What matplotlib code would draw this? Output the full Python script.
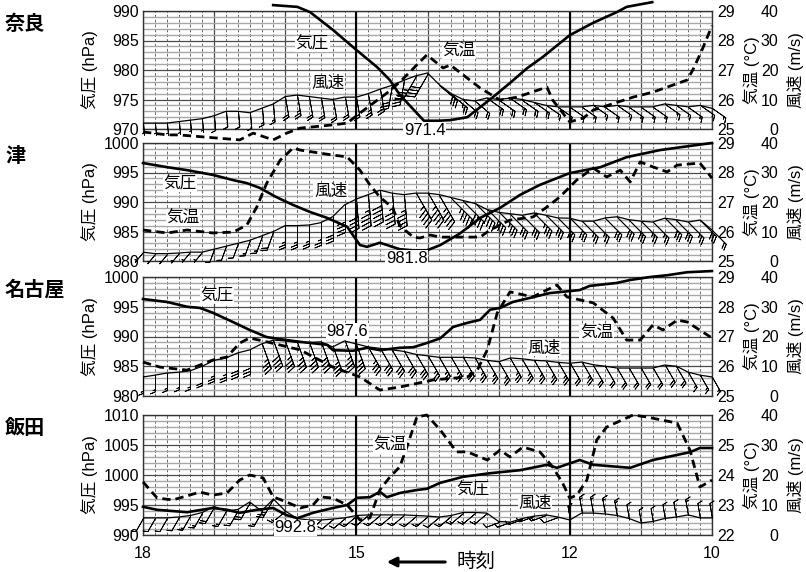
import numpy as np
import matplotlib
matplotlib.use("Agg")
import matplotlib.pyplot as plt
from matplotlib.ticker import MultipleLocator, FixedLocator, FuncFormatter

plt.rcParams['font.family'] = ['Liberation Sans', 'Noto Sans CJK JP']

stations = ["奈良", "津", "名古屋", "飯田"]
p_lows = [970, 980, 980, 990]      # pressure axis bottom (20 hPa span)
t_lows = [25, 25, 25, 22]          # temperature axis bottom (4 C span)

# ---- pressure (hPa) ----
nara_p_time = [16.17, 15.83, 15.65, 15.33, 15.0, 14.71, 14.53, 14.39, 14.05, 13.85, 13.68,
               13.44, 13.26, 13.08, 12.84, 12.6, 12.38, 12.0, 11.67, 11.34, 11.2, 10.84]
nara_p = [991.0, 990.7, 989.8, 986.8, 983.4, 980.5, 978.3, 975.8, 971.4, 971.4, 971.5,
          972.0, 973.7, 975.4, 977.8, 980.3, 982.2, 985.9, 988.0, 989.8, 990.7, 991.5]

tsu_p_time = [18.0, 17.66, 17.38, 17.02, 16.73, 16.54, 16.36, 16.12, 15.89, 15.65, 15.41, 15.13,
              14.95, 14.85, 14.67, 14.39, 14.2, 14.01, 13.82, 13.54, 13.26, 12.98, 12.7, 12.42,
              12.0, 11.57, 11.2, 10.73, 10.31, 10.0]
tsu_p = [996.6, 995.9, 995.4, 994.6, 993.7, 993.2, 992.4, 990.8, 989.5, 988.3, 987.3, 985.8,
         982.7, 982.4, 983.1, 982.0, 981.8, 981.8, 982.7, 984.7, 987.3, 989.0, 991.2, 992.9,
         994.9, 995.9, 997.6, 998.8, 999.5, 1000.0]

nagoya_p_time = [18.0, 17.66, 17.38, 17.2, 17.02, 16.73, 16.5, 16.26, 15.98, 15.79, 15.41, 15.33,
                 15.05, 14.85, 14.67, 14.39, 14.2, 14.01, 13.82, 13.64, 13.44, 13.26, 13.12, 12.98,
                 12.8, 12.52, 12.28, 11.86, 11.72, 11.34, 11.15, 10.87, 10.63, 10.35, 10.0]
nagoya_p = [996.3, 995.8, 995.0, 994.8, 994.0, 992.4, 991.1, 989.9, 989.4, 989.1, 988.6, 987.7,
            987.6, 988.1, 987.7, 988.1, 988.2, 988.9, 989.7, 991.6, 992.3, 992.8, 994.5, 994.8,
            995.8, 996.6, 997.3, 997.8, 998.5, 999.0, 999.5, 1000.0, 1000.3, 1000.8, 1001.0]

iida_p_time = [18.0, 17.8, 17.38, 17.02, 16.82, 16.64, 16.4, 16.17, 15.98, 15.83, 15.61, 15.33,
               15.13, 14.99, 14.81, 14.67, 14.57, 14.39, 14.15, 14.01, 13.82, 13.5, 13.12, 12.7,
               12.32, 12.18, 11.86, 11.67, 11.15, 10.83, 10.31, 10.17, 10.0]
iida_p = [994.7, 994.2, 993.8, 994.5, 994.2, 993.7, 994.2, 994.5, 993.3, 992.8, 993.7, 994.5,
          995.0, 996.2, 996.3, 997.2, 996.3, 997.0, 997.5, 997.7, 998.7, 999.7, 1000.3, 1000.8,
          1001.7, 1001.2, 1002.5, 1001.7, 1001.2, 1002.5, 1003.8, 1004.5, 1004.5]

# ---- temperature (C) ----
nara_t_time = [18.0, 17.66, 17.5, 16.64, 16.45, 16.17, 15.98, 15.79, 15.33, 15.13, 14.95, 14.57,
               14.39, 14.01, 13.78, 13.68, 13.26, 12.98, 12.74, 12.32, 12.24, 12.0, 11.81, 11.67,
               11.11, 10.83, 10.35, 10.27, 10.14, 10.0]
nara_t = [24.9, 24.8, 24.8, 24.63, 24.86, 24.63, 24.86, 25.03, 25.14, 25.2, 25.54, 26.22,
          26.59, 27.51, 27.07, 27.17, 26.39, 25.98, 26.08, 26.42, 25.98, 25.24, 25.37, 25.64,
          26.08, 26.25, 26.66, 27.0, 27.68, 28.5]

tsu_t_time = [18.0, 17.66, 17.38, 17.02, 16.73, 16.54, 16.4, 16.26, 16.07, 15.89, 15.79, 15.33,
              15.13, 14.95, 14.81, 14.67, 14.49, 14.39, 14.2, 14.11, 13.96, 13.82, 13.26, 13.12,
              12.84, 12.52, 12.32, 12.14, 11.9, 11.67, 11.48, 11.29, 11.15, 11.01, 10.83, 10.63,
              10.49, 10.17, 10.0]
tsu_t = [26.05, 25.95, 26.05, 25.95, 25.98, 26.22, 26.83, 27.64, 28.42, 28.83, 28.76, 28.59,
         28.53, 28.08, 27.58, 27.17, 26.8, 26.2, 25.81, 25.78, 25.88, 25.81, 25.81, 26.05,
         26.39, 26.49, 26.83, 27.17, 27.75, 28.15, 27.85, 28.08, 27.68, 28.36, 28.19, 28.02,
         28.25, 28.32, 27.81]

nagoya_t_time = [18.0, 17.76, 17.38, 17.02, 16.82, 16.64, 16.5, 16.26, 15.79, 15.33, 14.95, 14.67,
                 14.39, 13.92, 13.44, 13.3, 13.16, 13.02, 12.84, 12.52, 12.18, 12.04, 11.67, 11.39,
                 11.2, 11.01, 10.83, 10.69, 10.49, 10.35, 10.0]
nagoya_t = [26.14, 25.97, 25.87, 26.21, 26.31, 26.78, 26.95, 26.82, 26.55, 25.97, 25.64, 25.2,
            25.3, 25.54, 25.64, 25.87, 26.55, 27.79, 28.5, 28.33, 28.73, 28.33, 28.13, 27.62,
            26.88, 26.88, 27.39, 27.22, 27.55, 27.49, 26.95]

iida_t_time = [18.0, 17.8, 17.58, 17.2, 17.02, 16.82, 16.64, 16.5, 16.31, 16.17, 15.98, 15.79,
               15.61, 15.51, 15.33, 15.13, 14.95, 14.81, 14.67, 14.53, 14.39, 14.29, 14.15, 14.01,
               13.82, 13.59, 13.44, 13.16, 12.98, 12.84, 12.66, 12.42, 12.24, 12.1, 12.0, 11.9,
               11.76, 11.62, 11.48, 11.11, 10.91, 10.49, 10.31, 10.17, 10.0]
iida_t = [23.77, 23.23, 23.17, 23.43, 23.33, 23.4, 23.83, 24.0, 23.9, 23.27, 23.1, 22.9,
          23.0, 23.27, 23.23, 23.0, 22.5, 22.57, 23.5, 23.93, 24.27, 24.93, 25.93, 26.0,
          25.5, 24.77, 24.77, 24.5, 24.83, 24.6, 24.93, 24.77, 24.27, 23.73, 23.23, 23.33,
          23.83, 25.17, 25.6, 26.0, 25.93, 25.73, 24.83, 23.6, 23.83]

# ---- wind speed (m/s) and direction (deg, from) every 10 min, 18:00 -> 10:00 ----
wind_time = np.arange(48, -1, -1) / 6 + 10

nara_w = [2.0, 2.0, 2.0, 2.5, 3.0, 3.5, 4.5, 6.0, 6.0, 5.5, 7.0, 8.5,
          11.0, 11.5, 11.0, 10.5, 10.0, 10.8, 10.8, 12.0, 13.5, 14.8, 16.5, 18.0,
          19.0, 15.0, 12.0, 10.0, 9.5, 10.5, 10.0, 10.5, 10.0, 9.0, 8.0, 7.5,
          7.5, 7.5, 8.0, 7.5, 8.0, 7.5, 7.5, 7.5, 8.5, 8.0, 7.5, 8.0, 7.0]
nara_dir = [175] * 12 + [170] * 9 + [190] * 2 + [210] * 2 + [130] * 4 + [125] * 20

tsu_w = [3.0, 2.5, 2.5, 2.7, 3.0, 3.0, 4.0, 5.0, 6.0, 7.0, 8.5, 10.0,
         12.0, 12.0, 12.2, 13.0, 15.0, 19.0, 21.0, 22.5, 24.0, 23.0, 22.5, 23.0,
         23.0, 22.5, 21.5, 20.5, 19.5, 17.5, 16.5, 16.0, 15.5, 16.3, 15.5, 14.6,
         14.5, 13.5, 13.5, 14.6, 15.0, 14.0, 13.5, 13.2, 14.5, 14.0, 13.2, 13.9, 10.5]
tsu_dir = [220] * 6 + [200] * 6 + [180] * 6 + [175] * 5 + [150] * 3 + [135] * 23

nagoya_w = [6.4, 7.0, 7.7, 8.0, 8.5, 10.0, 12.0, 12.8, 14.5, 15.5, 17.5, 18.8,
            18.5, 18.0, 18.0, 18.2, 16.5, 18.5, 17.5, 16.5, 16.0, 15.5, 15.0, 14.0,
            13.5, 13.0, 13.0, 13.0, 12.8, 12.0, 11.5, 12.8, 12.5, 12.0, 11.8, 11.3,
            11.0, 11.4, 10.5, 10.0, 9.4, 9.4, 9.4, 9.4, 10.4, 10.0, 8.0, 7.0, 6.4]
nagoya_dir = [180] * 10 + [160] * 9 + [150] * 30

iida_w = [5.7, 5.7, 5.7, 6.0, 6.5, 7.5, 9.5, 8.0, 8.5, 11.0, 8.0, 12.0,
          8.0, 5.5, 5.0, 5.0, 5.3, 5.7, 6.5, 6.7, 6.7, 6.7, 6.7, 6.5,
          6.3, 6.0, 6.5, 7.5, 7.5, 7.3, 4.5, 4.3, 5.5, 6.3, 6.7, 6.0,
          5.0, 7.3, 7.3, 7.0, 6.5, 5.5, 4.0, 4.5, 5.5, 6.0, 6.7, 5.7, 5.7]
iida_dir = [210] * 12 + [230] * 18 + [250] * 6 + [350] * 13

p_times = [nara_p_time, tsu_p_time, nagoya_p_time, iida_p_time]
p_vals = [nara_p, tsu_p, nagoya_p, iida_p]
t_times = [nara_t_time, tsu_t_time, nagoya_t_time, iida_t_time]
t_vals = [nara_t, tsu_t, nagoya_t, iida_t]
w_vals = [nara_w, tsu_w, nagoya_w, iida_w]
w_dirs = [nara_dir, tsu_dir, nagoya_dir, iida_dir]

# in-plot labels: (text, time, pressure)
labels = [
    [("気圧", 15.62, 984.4), ("風速", 15.40, 977.8), ("気温", 13.56, 983.2), ("971.4", 14.04, 969.8)],
    [("気圧", 17.48, 993.1), ("気温", 17.44, 987.3), ("風速", 15.36, 991.9), ("981.8", 14.29, 980.5)],
    [("気圧", 16.96, 996.8), ("987.6", 15.13, 990.9), ("気温", 11.62, 990.6), ("風速", 12.36, 988.1)],
    [("気温", 14.53, 1005.0), ("気圧", 13.36, 997.5), ("風速", 12.49, 995.3), ("992.8", 15.86, 991.2)],
]

W, H = 806, 572
fig = plt.figure(figsize=(W / 100, H / 100), dpi=100)
panel_px = [(11, 129), (143, 261), (277, 396), (415, 535)]
left_px, right_px = 143, 712
hour_names = {18: "18", 15: "15", 12: "12", 10: "10"}

for k in range(4):
    top, bot = panel_px[k]
    ax = fig.add_axes([left_px / W, 1 - bot / H, (right_px - left_px) / W, (bot - top) / H])
    ax.set_xlim(18, 10)
    ax.set_ylim(p_lows[k], p_lows[k] + 20)

    ax.xaxis.set_major_locator(FixedLocator(list(range(10, 19))))
    ax.xaxis.set_minor_locator(MultipleLocator(1 / 6))
    ax.xaxis.set_major_formatter(FuncFormatter(lambda v, pos: hour_names.get(int(round(v)), "")))
    ax.yaxis.set_major_locator(MultipleLocator(5))
    ax.yaxis.set_minor_locator(MultipleLocator(1))
    ax.grid(which='minor', axis='y', color='#a8a8a8', lw=1.0)
    ax.grid(which='major', axis='y', color='#4a4a4a', lw=0.9)
    ax.grid(which='minor', axis='x', color='#6a6a6a', lw=0.7, ls=(0, (3, 2)))
    ax.grid(which='major', axis='x', color='#4a4a4a', lw=0.9)
    for h in (15, 12):
        ax.axvline(h, color='black', lw=1.5, zorder=1)
    ax.set_axisbelow(True)
    ax.tick_params(which='both', length=0, labelsize=11.5, pad=3)
    if k < 3:
        ax.tick_params(axis='x', labelbottom=False)
    else:
        ax.tick_params(axis='x', pad=8)
    for s in ax.spines.values():
        s.set_color('#333333')
        s.set_linewidth(1.0)

    axt = ax.twinx()
    axt.set_ylim(t_lows[k], t_lows[k] + 4)
    axt.set_yticks(range(t_lows[k], t_lows[k] + 5))
    axt.tick_params(length=0, labelsize=11.5, pad=4)

    axw = ax.twinx()
    axw.set_ylim(0, 40)
    axw.set_yticks([0, 10, 20, 30, 40])
    axw.tick_params(length=0, labelsize=11.5, pad=48)
    for lab in axw.get_yticklabels():
        lab.set_horizontalalignment('right')
    for a in (axt, axw):
        for s in a.spines.values():
            s.set_visible(False)

    # pressure
    ax.plot(p_times[k], p_vals[k], color='black', lw=1.9, clip_on=False, zorder=3)
    # temperature
    axt.plot(t_times[k], t_vals[k], color='black', lw=2.0, ls=(0, (3, 1.8)), clip_on=False)
    # wind speed + barbs (staff grows a little with speed, as on the chart)
    axw.plot(wind_time, w_vals[k], color='black', lw=0.9)
    for tt, sp, dd in zip(wind_time, w_vals[k], w_dirs[k]):
        r = np.radians(dd)
        blen = np.sqrt((10 + 0.9 * sp) / 0.694)
        axw.barbs([tt], [sp], [-sp * np.sin(r)], [-sp * np.cos(r)], length=blen,
                  barb_increments=dict(half=2.5, full=5, flag=50),
                  sizes=dict(height=0.3, spacing=0.13),
                  linewidth=0.6, color='black', clip_on=False)

    for txt, tx, ty in labels[k]:
        axw.text(tx, ty, txt, transform=ax.transData, ha='center', va='center', fontsize=12,
                 zorder=10, bbox=dict(facecolor='white', edgecolor='none', pad=0.5))

    cy = 1 - (top + bot) / 2 / H
    fig.text(5 / W, 1 - (top + 13) / H, stations[k], ha='left', va='center',
             fontsize=14.5, fontweight='bold')
    fig.text(90 / W, cy, "気圧 (hPa)", rotation=90, ha='center', va='center', fontsize=12)
    fig.text(752 / W, cy, "気温 (°C)", rotation=90, ha='center', va='center', fontsize=12)
    fig.text(796 / W, cy, "風速 (m/s)", rotation=90, ha='center', va='center', fontsize=12)

ax.annotate('', xy=(384 / W, 1 - 562 / H), xytext=(448 / W, 1 - 562 / H),
            xycoords='figure fraction', textcoords='figure fraction',
            arrowprops=dict(arrowstyle='-|>', color='black', lw=2.2, mutation_scale=14))
fig.text(457 / W, 1 - 562 / H, "時刻", ha='left', va='center', fontsize=14)

fig.savefig("out.png", dpi=100)
